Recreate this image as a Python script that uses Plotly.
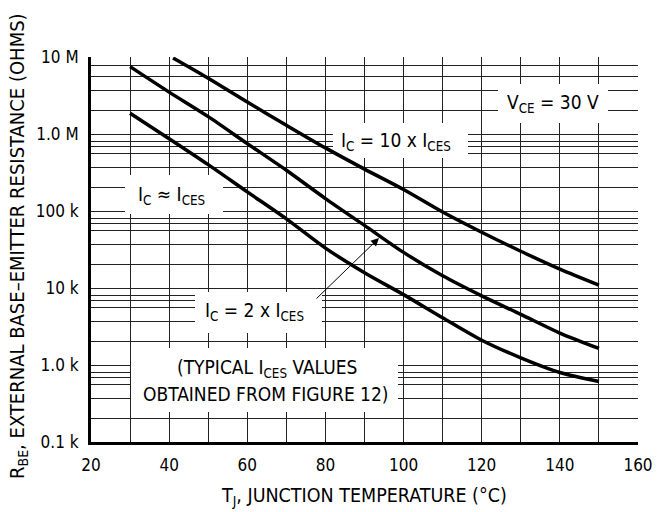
import plotly.graph_objects as go

# ---------------- data ----------------
t_10x = [41, 50, 60, 70, 80, 90, 100, 110, 120, 130, 140, 150]
r_10x = [9.7e6, 5.3e6, 2.6e6, 1.3e6, 660e3, 350e3, 190e3, 97e3, 53e3, 30e3, 17.6e3, 10.9e3]

t_2x = [30, 40, 50, 60, 70, 80, 90, 100, 110, 120, 130, 140, 150]
r_2x = [7.5e6, 3.5e6, 1.68e6, 750e3, 338e3, 145e3, 65e3, 29e3, 14.4e3, 7.9e3, 4.55e3, 2.6e3, 1.64e3]

t_1x = [30, 40, 50, 60, 70, 80, 90, 100, 110, 120, 130, 140, 150]
r_1x = [1.86e6, 870e3, 400e3, 177e3, 79e3, 33e3, 15.8e3, 8.2e3, 4.1e3, 2.1e3, 1.24e3, 800, 612]

y_tick_vals = [1e2, 1e3, 1e4, 1e5, 1e6, 1e7]
y_tick_text = ["0.1 k", "1.0 k", "10 k", "100 k", "1.0 M", "10 M"]
x_tick_vals = [20, 40, 60, 80, 100, 120, 140, 160]
minor_mult_low = [2, 3.65, 5.65, 6.8, 7.9]
minor_mult_top = [2, 3.65, 5.65, 7.8]

FONT = "Liberation Sans Narrow, Arial Narrow, DejaVu Sans Condensed, sans-serif"

y_minor = []
for d in [1e2, 1e3, 1e4, 1e5]:
    y_minor += [m * d for m in minor_mult_low]
y_minor += [m * 1e6 for m in minor_mult_top]

# plot-area pixel geometry (for labels / masks)
L, R, T, B = 91, 638, 57, 442
W, H = 664, 512
X0, X1, LY0, LY1 = 20, 160, 2, 7


def px(xp):
    return (xp - L) / (R - L)


def py(yp):
    return (B - yp) / (B - T)


def to_x(xp):
    return X0 + (xp - L) / (R - L) * (X1 - X0)


def to_y(yp):
    return 10 ** (LY0 + (B - yp) / (B - T) * (LY1 - LY0))


fig = go.Figure()

# white masks hiding the grid behind labels (drawn above grid, below curves)
masks = [
    (498, 84, 608, 123),
    (333, 123, 468, 158),
    (125, 175, 223, 214),
    (195, 292, 322, 333),
    (131, 348, 398, 412),
]
for x0, y0, x1, y1 in masks:
    xs = [to_x(x0), to_x(x1), to_x(x1), to_x(x0), to_x(x0)]
    ys = [to_y(y0), to_y(y0), to_y(y1), to_y(y1), to_y(y0)]
    fig.add_trace(go.Scatter(x=xs, y=ys, mode="lines", fill="toself", fillcolor="white",
                             line=dict(width=0, color="white"), showlegend=False,
                             hoverinfo="skip"))

for tx, rx in [(t_10x, r_10x), (t_2x, r_2x), (t_1x, r_1x)]:
    fig.add_trace(go.Scatter(x=tx, y=rx, mode="lines",
                             line=dict(color="black", width=3.5, shape="spline", smoothing=0.8),
                             showlegend=False, hoverinfo="skip"))

labels = [
    ("V<sub>CE</sub> = 30 V", 553, 103),
    ("I<sub>C</sub> = 10 x I<sub>CES</sub>", 396, 141),
    ("I<sub>C</sub> ≈ I<sub>CES</sub>", 171, 195),
    ("I<sub>C</sub> = 2 x I<sub>CES</sub>", 254, 311),
    ("(TYPICAL I<sub>CES</sub> VALUES", 267, 368),
    ("OBTAINED FROM FIGURE 12)", 266, 394),
]
annotations = []
for txt, xp, yp in labels:
    annotations.append(dict(text=txt, xref="paper", yref="paper", x=px(xp), y=py(yp),
                            showarrow=False, font=dict(family=FONT, size=19, color="black"),
                            xanchor="center", yanchor="middle"))

# arrow from I_C = 2 x I_CES label to its curve
annotations.append(dict(text="", xref="paper", yref="paper", x=px(379), y=py(238),
                        ax=315 - 379, ay=300 - 238, axref="pixel", ayref="pixel",
                        showarrow=True, arrowhead=2, arrowsize=1.6, arrowwidth=1,
                        arrowcolor="black"))

# axis titles
annotations.append(dict(text="T<sub>J</sub>, JUNCTION TEMPERATURE (°C)", xref="paper", yref="paper",
                        x=px(364), y=py(496), showarrow=False,
                        font=dict(family=FONT, size=19.5, color="black"),
                        xanchor="center", yanchor="middle"))
annotations.append(dict(text="R<sub>BE</sub>, EXTERNAL BASE–EMITTER RESISTANCE (OHMS)",
                        xref="paper", yref="paper", x=px(18), y=py(246), textangle=-90,
                        showarrow=False, font=dict(family=FONT, size=20, color="black"),
                        xanchor="center", yanchor="middle"))

fig.update_layout(
    width=W, height=H,
    margin=dict(l=L, r=W - R, t=T, b=H - B),
    paper_bgcolor="white", plot_bgcolor="white",
    font=dict(family=FONT, size=16, color="black"),
    annotations=annotations,
    xaxis=dict(range=[X0, X1], tickvals=x_tick_vals, showgrid=True, gridcolor="#222",
               gridwidth=1, ticks="", showline=True, linecolor="black", linewidth=3,
               zeroline=False, ticklabelstandoff=6,
               tickfont=dict(family=FONT, size=17),
               minor=dict(dtick=10, tick0=20, showgrid=True, gridcolor="#222", gridwidth=1)),
    yaxis=dict(type="log", range=[LY0, LY1], tickvals=y_tick_vals, ticktext=y_tick_text,
               showgrid=True, gridcolor="#222", gridwidth=1, ticks="", showline=True,
               linecolor="black", linewidth=3, zeroline=False, ticklabelstandoff=6,
               tickfont=dict(family=FONT, size=17),
               minor=dict(tickvals=y_minor, showgrid=True, gridcolor="#222", gridwidth=1)),
)

fig.write_html("out.html", config={"displayModeBar": False},
               post_script="document.body.style.margin='0';document.body.style.overflow='hidden';")
